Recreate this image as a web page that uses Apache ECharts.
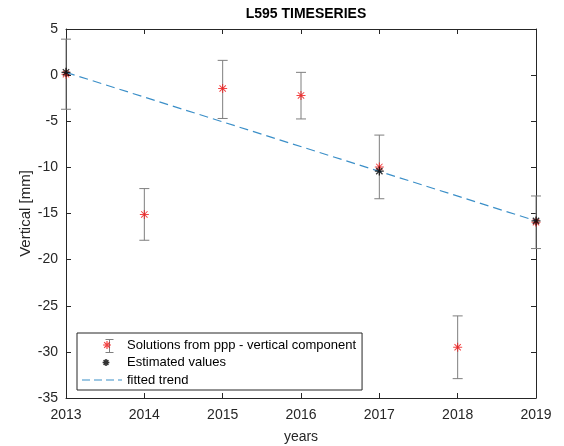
<!DOCTYPE html>
<html><head><meta charset="utf-8">
<script src="https://cdn.jsdelivr.net/npm/echarts@6/dist/echarts.min.js"></script>
<style>html,body{margin:0;padding:0;background:#fff}#c{width:564px;height:446px}</style>
</head><body><div id="c"></div>
<script>
const years = [2013, 2014, 2015, 2016, 2017, 2018, 2019];
const pppValues = [0.1, -15.1, -1.45, -2.2, -9.95, -29.5, -15.95];
const errLower = [-3.7, -17.9, -4.7, -4.75, -13.4, -32.9, -18.8];
const errUpper = [3.9, -12.3, 1.6, 0.3, -6.5, -26.1, -13.1];
const estYears = [2013, 2017, 2019];
const estValues = [0.3, -10.4, -15.8];
const trendYears = [2013, 2019];
const trendValues = [0.3, -15.8];
const xTicks = [2013, 2014, 2015, 2016, 2017, 2018, 2019];
const yTicks = [-35, -30, -25, -20, -15, -10, -5, 0, 5];
const legendNames = ['Solutions from ppp - vertical component', 'Estimated values', 'fitted trend'];

// asterisk made of four thin bars (filled path)
function rotPts(cx, cy, r, t, ang) {
  const c = Math.cos(ang), s = Math.sin(ang), h = t / 2;
  const pts = [[-r, -h], [r, -h], [r, h], [-r, h]];
  return pts.map(p => [cx + p[0] * c - p[1] * s, cy + p[0] * s + p[1] * c]);
}
function starPath(cx, cy, r, t) {
  let d = '';
  [0, Math.PI / 4, Math.PI / 2, 3 * Math.PI / 4].forEach(a => {
    const p = rotPts(cx, cy, r, t, a);
    d += 'M' + p.map(q => q[0].toFixed(2) + ',' + q[1].toFixed(2)).join('L') + 'Z ';
  });
  return d;
}
function boxed(d, w, h) {
  return 'path://M0,0L0.01,0L0.01,0.01Z M' + w + ',' + h + 'L' + (w - 0.01) + ',' + h + 'L' + (w - 0.01) + ',' + (h - 0.01) + 'Z ' + d;
}
const RED_STAR = 'path://' + starPath(10, 10, 10, 2.2);
const BLACK_STAR = 'path://' + starPath(10, 10, 10, 2.8);
const LEG_RED = boxed(starPath(25, 7, 4, 1.2), 40, 14);
const LEG_BLACK = boxed(starPath(24, 7, 3.4, 1.6), 40, 14);
const LEG_DASH = boxed('M0,6.4h8v1.2h-8Z M12,6.4h8v1.2h-8Z M24,6.4h8v1.2h-8Z M36,6.4h4v1.2h-4Z', 40, 14);

const axisColor = '#262626';
const trendColor = '#3b8fc8';
const font = 'Liberation Sans, Arial, sans-serif';

const errData = years.map((y, i) => [y, errLower[i], errUpper[i]]);
const pppData = years.map((y, i) => [y, pppValues[i]]);
const estData = estYears.map((y, i) => [y, estValues[i]]);
const trendData = trendYears.map((y, i) => [y, trendValues[i]]);

const chart = echarts.init(document.getElementById('c'), null, {renderer: 'canvas'});
const axisCommon = {
  type: 'value', min: 2013, max: 2019, interval: 1,
  axisLine: {show: true, onZero: false, lineStyle: {color: axisColor, width: 1}},
  axisTick: {show: true, inside: true, length: 5, lineStyle: {color: axisColor}},
  splitLine: {show: false}
};
const yCommon = {
  type: 'value', min: -35, max: 5, interval: 5,
  axisLine: {show: true, onZero: false, lineStyle: {color: axisColor}},
  axisTick: {show: true, inside: true, length: 5, lineStyle: {color: axisColor}},
  splitLine: {show: false}
};
const greyBar = {stroke: '#7f7f7f', lineWidth: 1};
chart.setOption({
  animation: false,
  backgroundColor: '#fff',
  title: {text: 'L595 TIMESERIES', left: 301, textAlign: 'center', top: 2,
    textStyle: {fontFamily: font, fontSize: 14, fontWeight: 'bold', color: '#000'}},
  grid: {left: 66, right: 28, top: 29, bottom: 48, containLabel: false, outerBoundsMode: 'none'},
  xAxis: [
    Object.assign({}, axisCommon, {position: 'bottom',
      name: 'years', nameLocation: 'middle', nameGap: 32, nameMoveOverlap: false,
      nameTextStyle: {fontFamily: font, fontSize: 14, color: axisColor},
      axisLabel: {fontFamily: font, fontSize: 14, color: axisColor, margin: 10,
        formatter: v => xTicks.includes(v) ? String(v) : ''}}),
    Object.assign({}, axisCommon, {position: 'top', axisLabel: {show: false}})
  ],
  yAxis: [
    Object.assign({}, yCommon, {position: 'left',
      name: 'Vertical [mm]', nameLocation: 'middle', nameGap: 33, nameRotate: 90, nameMoveOverlap: false,
      nameTextStyle: {fontFamily: font, fontSize: 15, color: axisColor},
      axisLabel: {fontFamily: font, fontSize: 14, color: axisColor, margin: 8,
        formatter: v => yTicks.includes(v) ? String(v) : ''}}),
    Object.assign({}, yCommon, {position: 'right', axisLabel: {show: false}})
  ],
  legend: {
    orient: 'vertical', left: 77, top: 333,
    padding: [5, 6, 3, 5], itemWidth: 40, itemHeight: 14, itemGap: 3.5,
    borderColor: axisColor, borderWidth: 1, backgroundColor: 'transparent',
    textStyle: {fontFamily: font, fontSize: 13, color: '#000', padding: [0, 0, 0, 0]},
    data: [
      {name: legendNames[0], icon: LEG_RED},
      {name: legendNames[1], icon: LEG_BLACK},
      {name: legendNames[2], icon: LEG_DASH}
    ]
  },
  graphic: [
    {type: 'group', left: 103, top: 337, z: 1, children: [
      {type: 'line', shape: {x1: 4.5, y1: 0.5, x2: 4.5, y2: 13.5}, style: greyBar},
      {type: 'line', shape: {x1: 0.5, y1: 0.5, x2: 8.5, y2: 0.5}, style: greyBar},
      {type: 'line', shape: {x1: 0.5, y1: 13.5, x2: 8.5, y2: 13.5}, style: greyBar}
    ]}
  ],
  series: [
    {type: 'custom', name: 'errorbars', data: errData, z: 2,
      renderItem: function (params, api) {
        const x = api.value(0);
        const lo = api.coord([x, api.value(1)]);
        const hi = api.coord([x, api.value(2)]);
        const hw = 5;
        return {type: 'group', children: [
          {type: 'line', shape: {x1: lo[0], y1: lo[1], x2: hi[0], y2: hi[1]}, style: greyBar},
          {type: 'line', shape: {x1: lo[0] - hw, y1: lo[1], x2: lo[0] + hw, y2: lo[1]}, style: greyBar},
          {type: 'line', shape: {x1: hi[0] - hw, y1: hi[1], x2: hi[0] + hw, y2: hi[1]}, style: greyBar}
        ]};
      }},
    {type: 'scatter', name: legendNames[0], data: pppData, z: 3,
      symbol: RED_STAR, symbolSize: 9, itemStyle: {color: '#f01414'}},
    {type: 'line', name: legendNames[2], data: trendData, z: 4, symbol: 'none',
      lineStyle: {color: trendColor, width: 1.2, type: [9, 5]}, itemStyle: {color: trendColor}},
    {type: 'scatter', name: legendNames[1], data: estData, z: 5,
      symbol: BLACK_STAR, symbolSize: 9, itemStyle: {color: '#000'}}
  ]
});
</script></body></html>
